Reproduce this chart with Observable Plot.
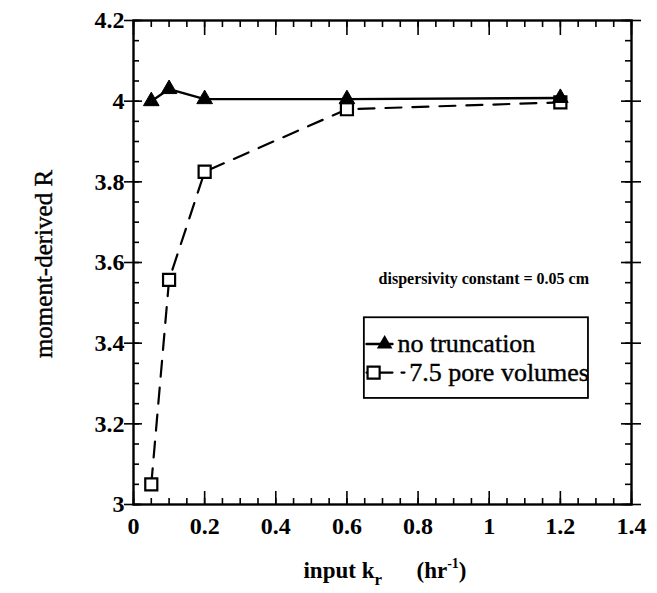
<!DOCTYPE html>
<html><head><meta charset="utf-8">
<script src="https://cdn.jsdelivr.net/npm/d3@7"></script>
<script src="https://cdn.jsdelivr.net/npm/@observablehq/plot@0.6"></script>
<style>
body{margin:0;background:#fff}
svg{display:block}
svg text, svg tspan{font-family:'Liberation Serif','Times New Roman',serif !important;}
</style>
</head><body><div id="chart"></div>
<script>
// ---- data ----
const kr = [0.05, 0.1, 0.2, 0.6, 1.2];
const noTruncation = [4.0, 4.03, 4.005, 4.005, 4.008];
const pore75 = [3.05, 3.557, 3.825, 3.98, 3.997];
const seriesNames = ["no truncation", "7.5 pore volumes"];
const xTicks = [0, 0.2, 0.4, 0.6, 0.8, 1, 1.2, 1.4];
const xTickLabels = ["0", "0.2", "0.4", "0.6", "0.8", "1", "1.2", "1.4"];
const yTicks = [3, 3.2, 3.4, 3.6, 3.8, 4, 4.2];
const yTickLabels = ["3", "3.2", "3.4", "3.6", "3.8", "4", "4.2"];
const note = "dispersivity constant = 0.05 cm";

// ---- layout ----
const W = 657, H = 593;
const mL = 133, mR = 26, mT = 20, mB = 89;
const PW = W - mL - mR, PH = H - mT - mB;
const xMinor = d3.range(0, 1.4001, 0.05);
const yMinor = d3.range(3, 4.2001, 0.05);
const FONT = "'Liberation Serif', 'Times New Roman', serif";

const rowsA = kr.map((k, i) => ({k, R: noTruncation[i]}));
const rowsB = kr.map((k, i) => ({k, R: pore75[i]}));

// legend placement (data units of the plot)
const LG = {x1: 0.649, x2: 1.279, y1: 3.263, y2: 3.463, row1: 3.398, row2: 3.327};

const chart = Plot.plot({
  width: W, height: H,
  marginLeft: mL, marginRight: mR, marginTop: mT, marginBottom: mB,
  style: {background: "white", fontFamily: FONT},
  x: {domain: [0, 1.4]},
  y: {domain: [3, 4.2]},
  marks: [
    // tick marks
    Plot.tickX(xMinor, {x: d => d, insetTop: PH - 6, strokeWidth: 1.6}),
    Plot.tickX(xTicks, {x: d => d, insetTop: PH - 13, strokeWidth: 1.6}),
    Plot.tickX(xMinor, {x: d => d, insetBottom: PH - 7, strokeWidth: 1.6}),
    Plot.tickX(xTicks, {x: d => d, insetBottom: PH - 15, strokeWidth: 1.6}),
    Plot.tickY(yMinor, {y: d => d, insetRight: PW - 6, strokeWidth: 1.6}),
    Plot.tickY(yTicks, {y: d => d, insetRight: PW - 18, dx: -9, strokeWidth: 1.6}),
    Plot.tickY(yMinor, {y: d => d, insetLeft: PW - 6, strokeWidth: 1.6}),
    Plot.tickY(yTicks, {y: d => d, insetLeft: PW - 20, dx: 10, strokeWidth: 1.6}),
    Plot.frame({stroke: "black", strokeWidth: 2.4}),
    Plot.axisX({ticks: xTicks, tickSize: 0, tickPadding: 12, tickFormat: d => xTickLabels[xTicks.indexOf(d)],
      fontSize: 24, fontWeight: "bold", label: null}),
    Plot.axisY({ticks: yTicks, tickSize: 0, tickPadding: 9, tickFormat: d => yTickLabels[yTicks.indexOf(d)],
      fontSize: 24, fontWeight: "bold", label: null}),
    // series
    Plot.line(rowsB, {x: "k", y: "R", stroke: "black", strokeWidth: 2.2, strokeDasharray: "16,11"}),
    Plot.line(rowsA, {x: "k", y: "R", stroke: "black", strokeWidth: 2.4}),
    Plot.dot(rowsB, {x: "k", y: "R", symbol: "square", r: 6.8, fill: "white", stroke: "black", strokeWidth: 2.2}),
    Plot.dot(rowsA, {x: "k", y: "R", symbol: "triangle", r: 5.8, fill: "black", stroke: "black", strokeWidth: 1}),
    // annotation
    Plot.text([note], {x: 0.689, y: 3.56, text: d => d, textAnchor: "start", fontSize: 16, fontWeight: "bold"}),
    // legend
    Plot.rect([0], {x1: LG.x1, x2: LG.x2, y1: LG.y1, y2: LG.y2, fill: "white", stroke: "black", strokeWidth: 1.8}),
    Plot.line([[0.655, LG.row1], [0.728, LG.row1]], {stroke: "black", strokeWidth: 2.4}),
    Plot.dot([[0.706, LG.row1]], {symbol: "triangle", r: 5.8, fill: "black"}),
    Plot.text([seriesNames[0]], {x: 0.742, y: LG.row1, text: d => d, textAnchor: "start", fontSize: 26,
      fill: "black", stroke: "black", strokeWidth: 0.4}),
    Plot.line([[0.655, LG.row2], [0.762, LG.row2]], {stroke: "black", strokeWidth: 2.2, strokeDasharray: "26,9,3,40"}),
    Plot.dot([[0.675, LG.row2]], {symbol: "square", r: 6.8, fill: "white", stroke: "black", strokeWidth: 2.2}),
    Plot.text([seriesNames[1]], {x: 0.775, y: LG.row2, text: d => d, textAnchor: "start", fontSize: 26,
      fill: "black", stroke: "black", strokeWidth: 0.4})
  ]
});

const svg = d3.select(chart);
// y title
svg.append("text")
  .attr("transform", `translate(52,${mT + PH / 2 + 2}) rotate(-90)`)
  .attr("text-anchor", "middle")
  .attr("font-size", 25).attr("fill", "black").attr("stroke", "black").attr("stroke-width", 0.4)
  .text("moment-derived R");
// x title with subscript/superscript
const xt = svg.append("text")
  .attr("x", mL + PW / 2 + 3).attr("y", 578)
  .attr("text-anchor", "middle")
  .attr("font-size", 23).attr("font-weight", "bold");
xt.append("tspan").text("input k");
xt.append("tspan").attr("font-size", 17).attr("dy", 7).text("r");
xt.append("tspan").attr("dy", -7).text("\u2003\u2002(hr");
xt.append("tspan").attr("font-size", 14).attr("dy", -10).text("-1");
xt.append("tspan").attr("dy", 10).text(")");

document.getElementById("chart").appendChild(chart);
</script></body></html>
